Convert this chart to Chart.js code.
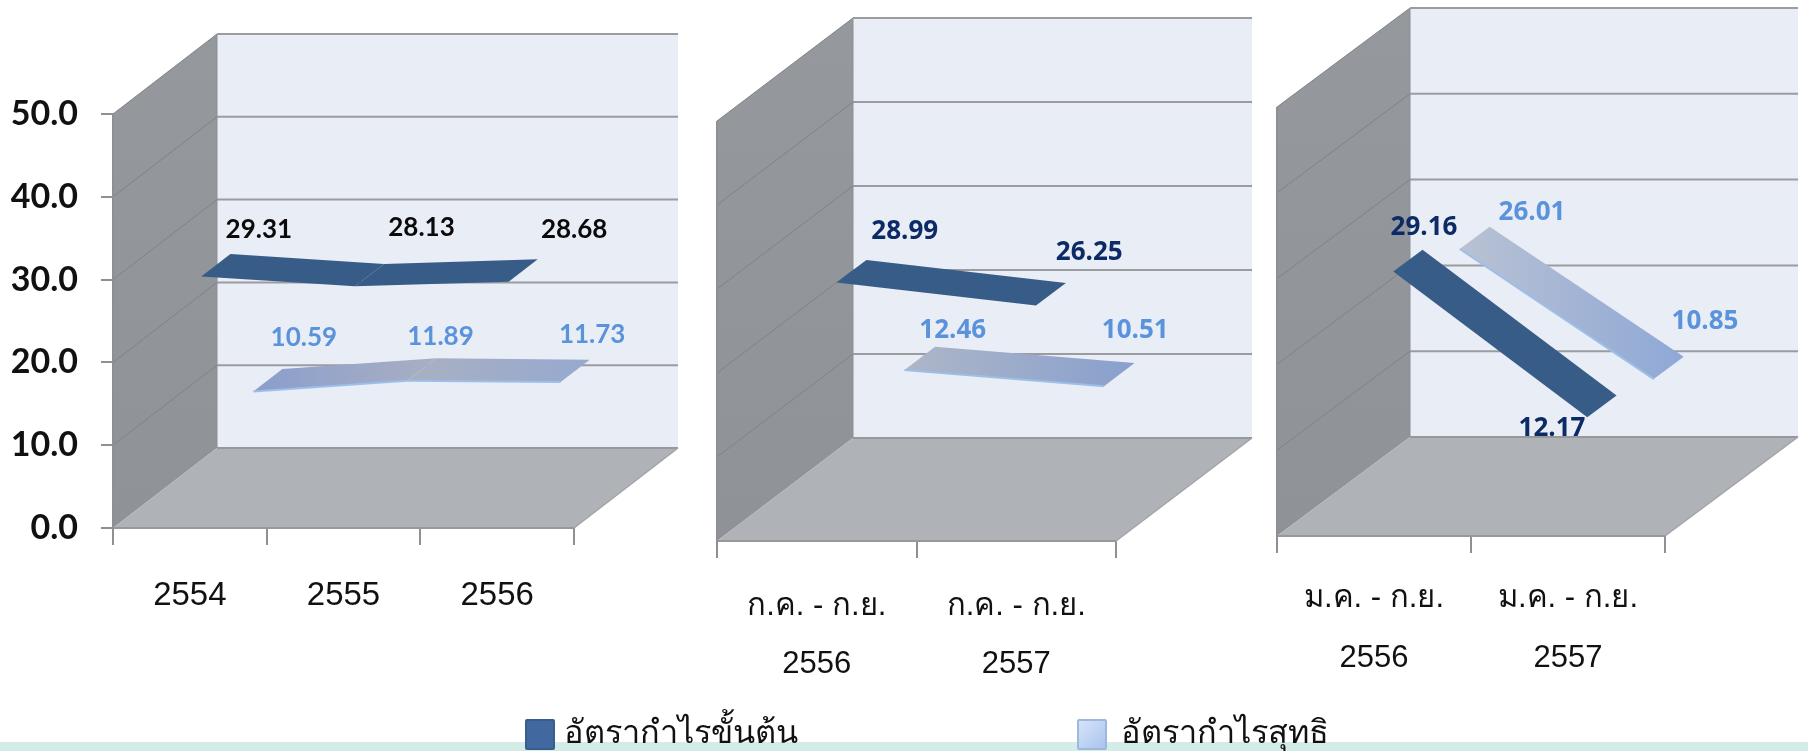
<!DOCTYPE html>
<html><head><meta charset="utf-8">
<script src="https://cdn.jsdelivr.net/npm/chart.js@4"></script>
<style>
html,body{margin:0;padding:0;background:#fff;width:1808px;height:751px;overflow:hidden}
canvas{position:absolute;left:0;top:0}
#band{position:absolute;left:0;top:742px;width:1808px;height:9px;background:#d4ece7}
.sw{position:absolute;top:719px;width:26px;height:27px;border-radius:2px}
.lt{position:absolute;top:707px;font:32.5px "Liberation Sans","Noto Sans",sans-serif;color:#111;white-space:nowrap;line-height:50px}
</style></head><body>
<div id="band"></div>
<canvas id="c1" width="1808" height="751"></canvas>
<canvas id="c2" width="1808" height="751"></canvas>
<canvas id="c3" width="1808" height="751"></canvas>
<div class="sw" style="left:525px;background:#41699f;border:2px solid #3a5d8c"></div>
<div class="lt" style="left:564px">อัตรากำไรขั้นต้น</div>
<div class="sw" style="left:1077px;background:linear-gradient(135deg,#d6e3f8,#a9c4ee);border:2px solid #9db8de"></div>
<div class="lt" style="left:1121px">อัตรากำไรสุทธิ</div>
<script>
const seriesNames = ['อัตรากำไรขั้นต้น', 'อัตรากำไรสุทธิ'];
const yearCategories = ['2554', '2555', '2556'];
const yearGross = [29.31, 28.13, 28.68];
const yearNet = [10.59, 11.89, 11.73];
const q3Categories = [['ก.ค. - ก.ย.', '2556'], ['ก.ค. - ก.ย.', '2557']];
const q3Gross = [28.99, 26.25];
const q3Net = [12.46, 10.51];
const ninthCategories = [['ม.ค. - ก.ย.', '2556'], ['ม.ค. - ก.ย.', '2557']];
const ninthGross = [29.16, 12.17];
const ninthNet = [26.01, 10.85];

const depthPlugin = {
  id: 'depth',
  afterDatasetsDraw(chart, args, o) {
    const {ctx, chartArea: a, scales: {y}} = chart;
    const [dx, dy] = o.offset;
    const poly = (pts, fill, stroke, lw) => {
      ctx.beginPath();
      pts.forEach((p, i) => i ? ctx.lineTo(p[0], p[1]) : ctx.moveTo(p[0], p[1]));
      ctx.closePath();
      if (fill) { ctx.fillStyle = fill; ctx.fill(); }
      if (stroke) { ctx.strokeStyle = stroke; ctx.lineWidth = lw || 1; ctx.stroke(); }
    };
    const line = (x0, y0, x1, y1, c, w) => {
      ctx.beginPath(); ctx.moveTo(x0, y0); ctx.lineTo(x1, y1);
      ctx.strokeStyle = c; ctx.lineWidth = w; ctx.stroke();
    };
    ctx.save();
    // back wall
    poly([[a.left + dx, a.top + dy], [a.right + dx, a.top + dy], [a.right + dx, a.bottom + dy], [a.left + dx, a.bottom + dy]], '#e9edf6');
    // side wall
    const sg = ctx.createLinearGradient(0, a.top + dy, 0, a.bottom);
    sg.addColorStop(0, '#95989c'); sg.addColorStop(1, '#8f9296');
    poly([[a.left, a.top], [a.left + dx, a.top + dy], [a.left + dx, a.bottom + dy], [a.left, a.bottom]], sg);
    y.ticks.forEach(t => {
      const py = y.getPixelForValue(t.value);
      line(a.left + dx, py + dy, a.right + dx, py + dy, '#9a9c9f', 2);
      if (t.value > 0) line(a.left, py, a.left + dx, py + dy, '#7f8286', 1);
    });
    line(a.left, a.top, a.left, a.bottom, '#8c8f93', 2);
    line(a.left + dx, a.top + dy, a.left + dx, a.bottom + dy, '#8c8f93', 1);
    // data labels, then floor, so that a label reaching the floor is cut by it
    chart.data.datasets.forEach((ds, i) => {
      const pts = chart.getDatasetMeta(i).data;
      ctx.font = o.labelFont; ctx.textAlign = 'center'; ctx.textBaseline = 'middle';
      ctx.fillStyle = o.labelColors[i];
      pts.forEach((p, j) => {
        const s = o.labelShift[i][j];
        ctx.fillText(ds.data[j].toFixed(2), p.x + s[0], p.y + s[1]);
      });
    });
    poly([[a.left, a.bottom], [a.right, a.bottom], [a.right + dx, a.bottom + dy], [a.left + dx, a.bottom + dy]], '#afb2b6');
    line(a.left, a.bottom, a.right, a.bottom, '#96989b', 2);
    line(a.left + dx, a.bottom + dy, a.right + dx, a.bottom + dy, '#96989b', 2);
    line(a.right, a.bottom, a.right + dx, a.bottom + dy, '#a2a4a7', 1.5);
    line(a.left + dx, a.top + dy, a.right + dx, a.top + dy, '#9a9c9f', 2);
    // ribbons
    chart.data.datasets.forEach((ds, i) => {
      const pts = chart.getDatasetMeta(i).data;
      const [f0, f1] = o.bands[i];
      for (let j = 0; j < pts.length - 1; j++) {
        const p = pts[j], q = pts[j + 1];
        let fill = '#375c87';
        if (i === 1) {
          const c = o.lightStops[j];
          fill = ctx.createLinearGradient(p.x + dx * f0, 0, q.x + dx * f1, 0);
          fill.addColorStop(0, c[0]); fill.addColorStop(1, c[1]);
        }
        poly([[p.x + dx * f0, p.y + dy * f0], [q.x + dx * f0, q.y + dy * f0],
              [q.x + dx * f1, q.y + dy * f1], [p.x + dx * f1, p.y + dy * f1]], fill);
        if (i === 1) line(p.x + dx * f0, p.y + dy * f0, q.x + dx * f0, q.y + dy * f0, '#9cbfea', 2);
      }
    });
    ctx.restore();
  }
};

function panel(id, cats, gross, net, box, o, axis) {
  new Chart(document.getElementById(id), {
    type: 'line',
    plugins: [depthPlugin],
    data: {
      labels: cats,
      datasets: [
        {label: seriesNames[0], data: gross, showLine: false, pointRadius: 0, backgroundColor: '#41699f'},
        {label: seriesNames[1], data: net, showLine: false, pointRadius: 0, backgroundColor: '#b9cdf0'}
      ]
    },
    options: {
      responsive: false, animation: false, events: [],
      layout: {padding: {left: 0, top: box.t, right: 1808 - box.r, bottom: 0}},
      plugins: {legend: {display: false}, tooltip: {enabled: false}, depth: o},
      scales: {
        x: {
          type: 'category', offset: true, afterFit: s => { s.height = 751 - box.b; },
          border: {display: false},
          grid: {offset: true, drawOnChartArea: false, drawTicks: true, tickLength: 17, color: '#8e9093', lineWidth: 2},
          ticks: {autoSkip: false, minRotation: 0, maxRotation: 0, padding: axis.pad, color: '#111', font: axis.xFont}
        },
        y: {
          min: 0, max: 50, afterFit: s => { s.width = box.l; },
          border: {display: false},
          grid: {display: axis.y, drawOnChartArea: false, tickLength: 12, color: '#8e9093', lineWidth: 2},
          ticks: {display: axis.y, stepSize: 10, padding: 23, color: '#111',
            font: {family: 'Lato', weight: 'bold', size: 34},
            callback: v => v.toFixed(1)}
        }
      }
    }
  });
}

panel('c1', yearCategories, yearGross, yearNet, {l: 113, r: 574, t: 114, b: 528}, {
  offset: [104, -80], labelFont: 'bold 26px Lato', labelColors: ['#0a0a0a', '#5a93dc'],
  bands: [[0.11, 0.39], [0.61, 0.89]],
  labelShift: [[[69, -56], [78, -67], [77, -61]], [[114, -103], [97, -93], [95, -96]]],
  lightStops: [['#8a9ecc', '#a9afc2'], ['#a9b0c2', '#96a9d0']]
}, {y: true, pad: 31, xFont: {family: '"Liberation Sans"', size: 33}});

panel('c2', q3Categories, q3Gross, q3Net, {l: 717, r: 1116, t: 121, b: 541}, {
  offset: [136, -103], labelFont: 'bold 26px "Open Sans"', labelColors: ['#0c2a66', '#5a93dc'],
  bands: [[0.145, 0.365], [0.645, 0.87]],
  labelShift: [[[88, -66], [73, -68]], [[136, -106], [119, -122]]],
  lightStops: [['#aeb6c8', '#88a0cd']]
}, {y: false, pad: 19, xFont: {family: '"Liberation Sans","Noto Sans"', size: 31, lineHeight: 1.87}});

panel('c3', ninthCategories, ninthGross, ninthNet, {l: 1277, r: 1665, t: 107, b: 536}, {
  offset: [133, -99], labelFont: 'bold 26px "Open Sans"', labelColors: ['#0c2a66', '#5a93dc'],
  bands: [[0.145, 0.365], [0.645, 0.87]],
  labelShift: [[[50, -58], [-16, -3]], [[158, -100], [137, -121]]],
  lightStops: [['#b9c2d3', '#8ea8d6']]
}, {y: false, pad: 16, xFont: {family: '"Liberation Sans","Noto Sans"', size: 31, lineHeight: 1.93}});
</script>
</body></html>
